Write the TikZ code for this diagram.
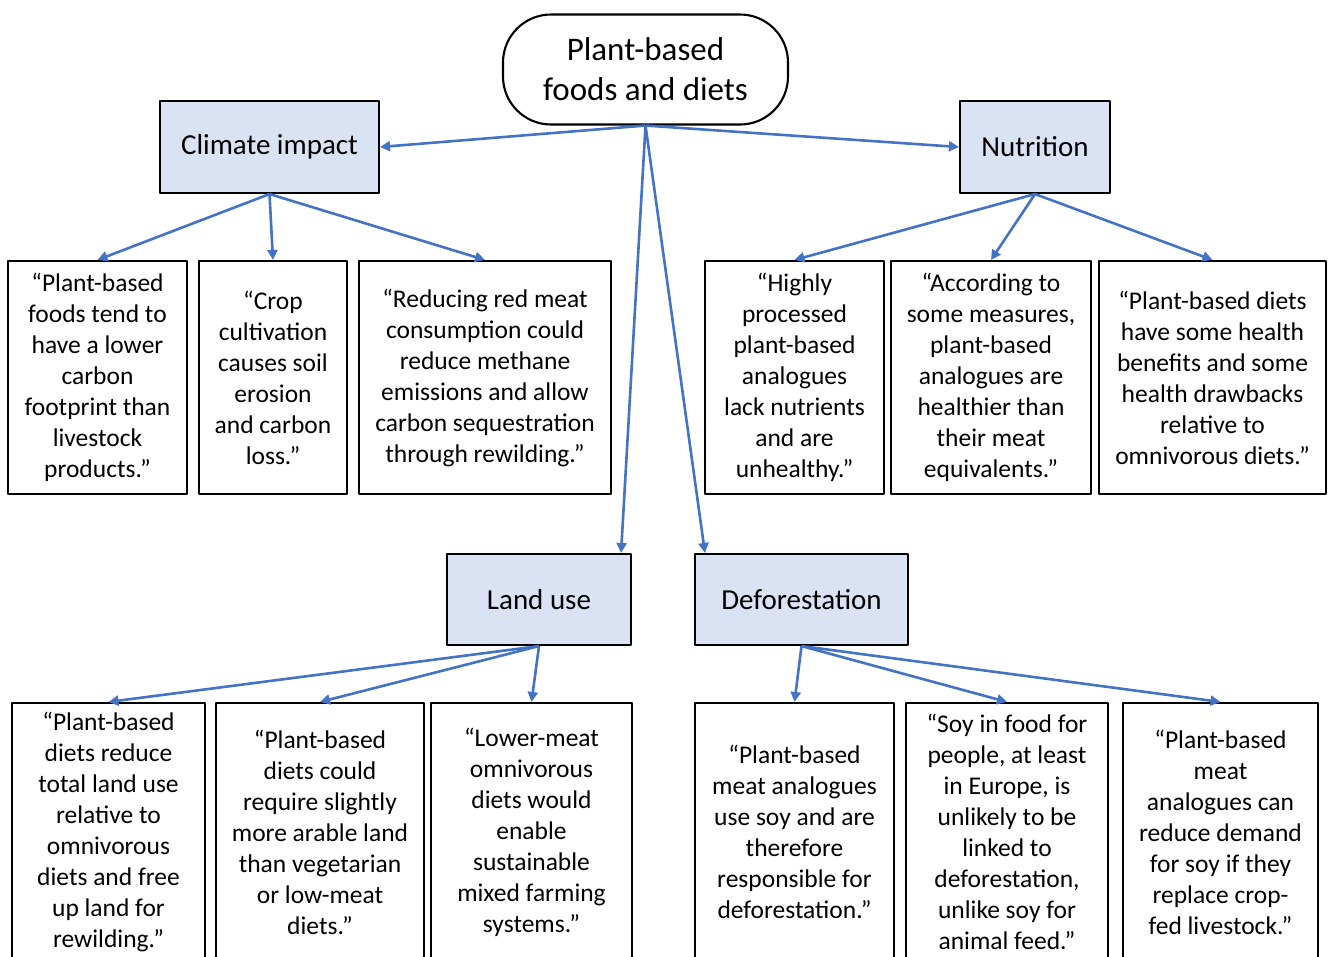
\documentclass[tikz,border=0pt]{standalone}
\usepackage{fontspec}
\setmainfont{Carlito}
\usetikzlibrary{arrows.meta}
\definecolor{linkblue}{HTML}{4472C4}
\definecolor{topicfill}{HTML}{DAE3F3}
\begin{document}
\begin{tikzpicture}[x=1pt, y=-1pt, >={Triangle[length=10pt,width=10pt]}, line join=round,
    topic/.style={draw, line width=2.1pt, fill=topicfill, inner sep=0pt, font=\fontsize{29}{35}\selectfont},
    quote/.style={draw, line width=2.1pt, inner sep=0pt, align=center, font=\fontsize{25.5}{31}\selectfont},
    link/.style={->, draw=linkblue, line width=2.6pt}]
    \useasboundingbox (0,0) rectangle (1328,956);
    \node[draw, line width=2.1pt, rounded corners=48pt, minimum width=285pt, minimum height=110pt, align=center, font=\fontsize{33}{40}\selectfont] (root) at (645.5,69.5) {Plant-based\\foods and diets};
    \node[topic, minimum width=219pt, minimum height=92pt] (climate) at (269.5,147) {Climate impact};
    \node[topic, minimum width=150pt, minimum height=92pt] (nutrition) at (1035,147) {Nutrition};
    \node[topic, minimum width=184pt, minimum height=91pt] (land) at (539,599.5) {Land use};
    \node[topic, minimum width=213pt, minimum height=91pt] (defor) at (801.5,599.5) {Deforestation};
    % top row
    \node[quote, minimum width=179pt, minimum height=233pt] (ci1) at (97.5,377.5) {“Plant-based\\foods tend to\\have a lower\\carbon\\footprint than\\livestock\\products.”};
    \node[quote, minimum width=148pt, minimum height=233pt] (ci2) at (273,377.5) {“Crop\\cultivation\\causes soil\\erosion\\and carbon\\loss.”};
    \node[quote, minimum width=252pt, minimum height=233pt] (ci3) at (485,377.5) {“Reducing red meat\\consumption could\\reduce methane\\emissions and allow\\carbon sequestration\\through rewilding.”};
    \node[quote, minimum width=179pt, minimum height=233pt] (nu1) at (794.5,377.5) {“Highly\\processed\\plant-based\\analogues\\lack nutrients\\and are\\unhealthy.”};
    \node[quote, minimum width=200pt, minimum height=233pt] (nu2) at (991,377.5) {“According to\\some measures,\\plant-based\\analogues are\\healthier than\\their meat\\equivalents.”};
    \node[quote, minimum width=227pt, minimum height=233pt] (nu3) at (1212.5,377.5) {“Plant-based diets\\have some health\\benefits and some\\health drawbacks\\relative to\\omnivorous diets.”};
    % bottom row
    \node[quote, minimum width=193pt, minimum height=258pt] (lu1) at (108.5,832) {“Plant-based\\diets reduce\\total land use\\relative to\\omnivorous\\diets and free\\up land for\\rewilding.”};
    \node[quote, minimum width=208pt, minimum height=258pt] (lu2) at (320,832) {“Plant-based\\diets could\\require slightly\\more arable land\\than vegetarian\\or low-meat\\diets.”};
    \node[quote, minimum width=201pt, minimum height=258pt] (lu3) at (531.5,832) {“Lower-meat\\omnivorous\\diets would\\enable\\sustainable\\mixed farming\\systems.”};
    \node[quote, minimum width=199pt, minimum height=258pt] (de1) at (794.5,832) {“Plant-based\\meat analogues\\use soy and are\\therefore\\responsible for\\deforestation.”};
    \node[quote, minimum width=202pt, minimum height=258pt] (de2) at (1007,832) {“Soy in food for\\people, at least\\in Europe, is\\unlikely to be\\linked to\\deforestation,\\unlike soy for\\animal feed.”};
    \node[quote, minimum width=195pt, minimum height=258pt] (de3) at (1220.5,832) {“Plant-based\\meat\\analogues can\\reduce demand\\for soy if they\\replace crop-\\fed livestock.”};
    \draw[link] (root.south) -- (climate.east);
    \draw[link] (root.south) -- (nutrition.west);
    \draw[link] (root.south) -- ([xshift=-11pt]land.north east);
    \draw[link] (root.south) -- ([xshift=11pt]defor.north west);
    \foreach \leaf in {ci1,ci2,ci3} \draw[link] (climate.south) -- (\leaf.north);
    \foreach \leaf in {nu1,nu2,nu3} \draw[link] (nutrition.south) -- (\leaf.north);
    \foreach \leaf in {lu1,lu2,lu3} \draw[link] (land.south) -- (\leaf.north);
    \foreach \leaf in {de1,de2,de3} \draw[link] (defor.south) -- (\leaf.north);
\end{tikzpicture}
\end{document}
